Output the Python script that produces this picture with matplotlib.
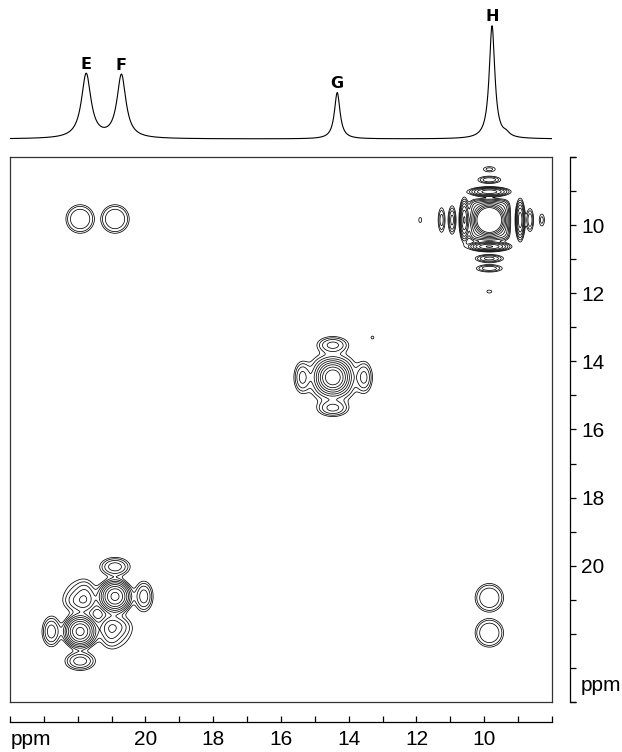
import numpy as np
import matplotlib
matplotlib.use('Agg')
import matplotlib.pyplot as plt

# ---------------- data ----------------
# 1D projection (top trace)
peak_labels = ['E', 'F', 'G', 'H']
peak_ppm_1d = [21.75, 20.71, 14.34, 9.77]
peak_height_1d = [57.0, 56.0, 41.0, 100.0]
peak_hwhm_1d = [0.17, 0.16, 0.10, 0.10]
shoulder_ppm_1d = [9.35]
shoulder_height_1d = [3.0]
shoulder_hwhm_1d = [0.12]

# 2D peak components (F2 = x, F1 = y)
# E, F, G, H diagonal; small diagonal; H cross peaks; E/F exchange; H and G pedestals
peak2d_x = [21.93, 20.90, 14.47, 9.85, 13.30, 21.93, 20.90, 9.85, 9.85, 21.93, 20.90, 9.85, 14.47]
peak2d_y = [21.93, 20.90, 14.47, 9.85, 13.30, 9.82, 9.82, 20.94, 21.97, 20.90, 21.93, 9.85, 14.47]
peak2d_amp = [0.15, 0.15, 0.19, 1.00, 0.007, 0.014, 0.014, 0.014, 0.014, 0.011, 0.011, 0.030, 0.012]
peak2d_width = [0.21, 0.21, 0.22, 0.17, 0.05, 0.35, 0.35, 0.35, 0.35, 0.35, 0.35, 0.50, 0.55]
peak2d_norm = [2, 2, 2, 2, 2, 2, 2, 2, 2, 2, 2, 6, 4]
peak2d_power = [2, 2, 2, 2, 2, 4, 4, 4, 4, 2, 2, 6, 4]

# truncation side lobes: parent peak, axis, offset (ppm), amplitude, widths
lobe_parent = [3] * 14 + [2] * 4 + [0] * 4 + [1] * 4
lobe_axis = ['x'] * 7 + ['y'] * 7 + ['x', 'x', 'y', 'y'] * 3
lobe_offset = [0.74, 1.10, 1.41, 2.04, -0.91, -1.20, -1.55,
               -0.83, -1.18, -1.49, 0.78, 1.13, 1.42, 2.10,
               0.90, -0.92, -0.95, 0.90,
               0.85, -0.90, -0.88, 0.87,
               0.88, -0.85, -0.87, 0.88]
lobe_amp = [0.060, 0.020, 0.014, 0.006, 0.050, 0.016, 0.009,
            0.050, 0.016, 0.009, 0.060, 0.020, 0.016, 0.006,
            0.020, 0.020, 0.020, 0.020,
            0.022, 0.010, 0.010, 0.022,
            0.010, 0.022, 0.022, 0.010]
lobe_narrow = [0.07] * 14 + [0.15] * 4 + [0.16] * 8
lobe_wide = [0.30, 0.25, 0.25, 0.12, 0.30, 0.22, 0.16,
             0.30, 0.22, 0.16, 0.30, 0.25, 0.25, 0.12,
             0.28, 0.28, 0.28, 0.28,
             0.26, 0.26, 0.26, 0.26,
             0.26, 0.26, 0.26, 0.26]

# axis scale
ppm_min, ppm_max = 8.0, 24.0
major_ticks = [20, 18, 16, 14, 12, 10]
minor_ticks = list(range(8, 25))
contour_levels = list(0.005 * 1.5 ** np.arange(9))


def lorentz(x, x0, h, g):
    return h / (1 + ((x - x0) / g) ** 2)


def gauss(u, s):
    return np.exp(-0.5 * (u / s) ** 2)


# ---------------- figure ----------------
W, H = 622, 752
fig = plt.figure(figsize=(W / 100, H / 100), dpi=100)


def frac(x0, y0, x1, y1):
    return [x0 / W, 1 - y1 / H, (x1 - x0) / W, (y1 - y0) / H]


# main 2D panel
ax = fig.add_axes(frac(10, 157, 552, 702))
grid = np.linspace(ppm_min, ppm_max, 1201)
X, Y = np.meshgrid(grid, grid)
Z = np.zeros_like(X)
for x0, y0, A, s, q, pw in zip(peak2d_x, peak2d_y, peak2d_amp, peak2d_width,
                               peak2d_norm, peak2d_power):
    d = (np.abs(X - x0) ** q + np.abs(Y - y0) ** q) ** (1.0 / q)
    Z += A * np.exp(-0.5 * (d / s) ** pw)
for p, axis_, off, A, sn, sw in zip(lobe_parent, lobe_axis, lobe_offset, lobe_amp,
                                    lobe_narrow, lobe_wide):
    x0, y0 = peak2d_x[p], peak2d_y[p]
    if axis_ == 'x':
        Z += A * np.outer(gauss(grid - y0, sw), gauss(grid - (x0 + off), sn))
    else:
        Z += A * np.outer(gauss(grid - (y0 + off), sn), gauss(grid - x0, sw))
ax.contour(X, Y, Z, levels=sorted(contour_levels), colors='black',
           linewidths=0.55, linestyles='solid')
ax.set_xlim(ppm_max, ppm_min)
ax.set_ylim(ppm_max, ppm_min)
ax.set_xticks([]); ax.set_yticks([])
for s in ax.spines.values():
    s.set_linewidth(0.9)
    s.set_color('#333333')

# top 1D trace
axt = fig.add_axes(frac(10, 10, 552, 150))
xs = np.linspace(ppm_min, ppm_max, 3000)
spec = np.zeros_like(xs)
for p, h, g in zip(peak_ppm_1d, peak_height_1d, peak_hwhm_1d):
    spec += lorentz(xs, p, h, g)
for p, h, g in zip(shoulder_ppm_1d, shoulder_height_1d, shoulder_hwhm_1d):
    spec += lorentz(xs, p, h, g)
axt.plot(xs, spec, color='black', lw=0.8)
axt.set_xlim(ppm_max, ppm_min)
axt.set_ylim(-9.7, 114.2)
axt.axis('off')
for lab, p in zip(peak_labels, peak_ppm_1d):
    yv = np.interp(p, xs, spec)
    axt.annotate(lab, (p, yv), xytext=(0, 1.0), textcoords='offset points',
                 ha='center', va='bottom', fontsize=11.5, fontweight='heavy',
                 family='DejaVu Sans')

tick_family = ['Liberation Sans', 'DejaVu Sans']
tick_size = 15

# bottom ruler
axb = fig.add_axes(frac(10, 721, 552, 722))
axb.set_xlim(ppm_max, ppm_min)
for k in ['top', 'left', 'right']:
    axb.spines[k].set_visible(False)
axb.spines['bottom'].set_linewidth(0.9)
axb.set_yticks([])
bx_pos = major_ticks + [23.37]
bx_lab = [str(v) for v in major_ticks] + ['ppm']
axb.set_xticks(bx_pos)
axb.set_xticklabels(bx_lab, family=tick_family, fontsize=tick_size)
axb.set_xticks(minor_ticks, minor=True)
axb.tick_params(axis='x', which='both', direction='in', length=4, width=0.9, pad=6)
axb.xaxis.get_major_ticks()[-1].tick1line.set_visible(False)

# right ruler
axr = fig.add_axes(frac(569, 157, 570, 702))
axr.set_ylim(ppm_max, ppm_min)
for k in ['top', 'left', 'bottom']:
    axr.spines[k].set_visible(False)
axr.spines['right'].set_linewidth(0.9)
axr.set_xticks([])
axr.yaxis.tick_right()
ry_pos = major_ticks + [23.45]
ry_lab = [str(v) for v in major_ticks] + ['ppm']
axr.set_yticks(ry_pos)
axr.set_yticklabels(ry_lab, family=tick_family, fontsize=tick_size)
axr.set_yticks(minor_ticks + [ppm_min, ppm_max], minor=True)
axr.tick_params(axis='y', which='both', direction='out', length=4, width=0.9, pad=4)
axr.yaxis.get_major_ticks()[-1].tick2line.set_visible(False)

fig.savefig('out.png', dpi=100)
